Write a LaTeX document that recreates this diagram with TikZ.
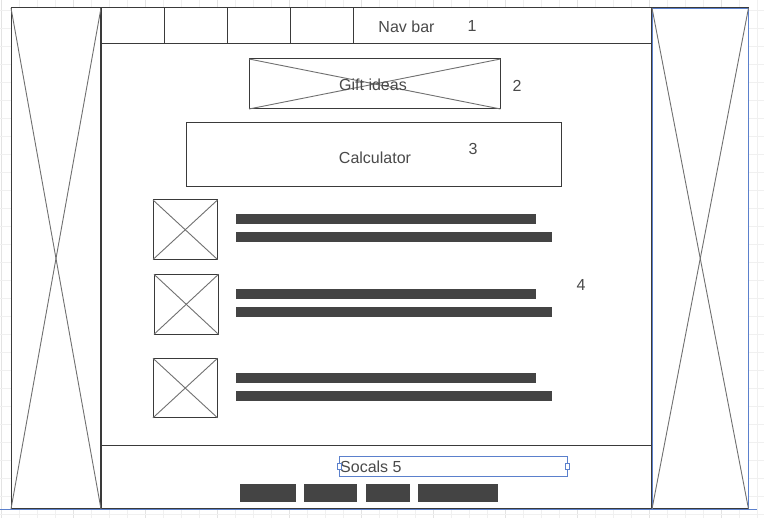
\documentclass[tikz,border=0pt]{standalone}
\usepackage{fontspec}
\setmainfont{Liberation Sans}
\definecolor{linec}{HTML}{3A3A3A}
\definecolor{crossc}{HTML}{707070}
\definecolor{barc}{HTML}{444444}
\definecolor{txtc}{HTML}{4A4A4A}
\definecolor{selc}{HTML}{5B80CC}
\definecolor{gridminor}{HTML}{F0F0F0}
\definecolor{gridmajor}{HTML}{E3E3E3}
\tikzset{
  wbox/.style={draw=linec, line width=1pt, inner sep=0pt, outer sep=0pt, anchor=north west},
  crossln/.style={draw=crossc, line width=0.9pt},
  barbox/.style={fill=barc, draw=none, inner sep=0pt, outer sep=0pt, anchor=north west},
  lbl/.style={text=txtc, inner sep=0pt, font=\fontsize{16}{19}\selectfont},
  handle/.style={draw=selc, fill=white, line width=0.6pt, inner sep=0pt, minimum width=4pt, minimum height=6pt}
}
\begin{document}
\begin{tikzpicture}[x=1pt,y=-1pt]
\useasboundingbox (0,0) rectangle (764,518);
% grid
\foreach \i in {0,...,42} {
  \pgfmathtruncatemacro{\m}{mod(\i,4)}
  \ifnum\m=0 \draw[gridmajor, line width=0.8pt] ({1.3+18*\i},0) -- ({1.3+18*\i},518);
  \else \draw[gridminor, line width=0.8pt] ({1.3+18*\i},0) -- ({1.3+18*\i},518); \fi
}
\foreach \j in {0,...,28} {
  \draw[gridminor, line width=0.8pt] (0,{10+18*\j}) -- (764,{10+18*\j});
}
% white page
\fill[white] (11,8) rectangle (749,509);
% main container
\node[wbox, minimum width=551pt, minimum height=501pt] (main) at (101,8) {};
\draw[linec, line width=2pt] (main.north west) -- (main.south west);
% left panel
\node[wbox, minimum width=90pt, minimum height=501pt] (lp) at (11,8) {};
\draw[crossln] (lp.north west) -- (lp.south east);
\draw[crossln] (lp.north east) -- (lp.south west);
% nav tabs
\node[wbox, minimum width=63pt, minimum height=36pt] (t1) at (101,8) {};
\node[wbox, minimum width=63pt, minimum height=36pt] (t2) at (164,8) {};
\node[wbox, minimum width=63pt, minimum height=36pt] (t3) at (227,8) {};
\node[wbox, minimum width=63pt, minimum height=36pt] (t4) at (290,8) {};
\coordinate (navend) at (652,43.5);
\draw[linec, line width=1pt] (t4.south east |- navend) -- (navend);
\node[lbl] (navtxt) at (406.5,26.5) {Nav bar};
\node[lbl] (n1) at (472,26.5) {1};
% gift ideas
\node[wbox, minimum width=251.5pt, minimum height=50pt] (gift) at (249,59) {};
\draw[crossln] (gift.north west) -- (gift.south east);
\draw[crossln] (gift.north east) -- (gift.south west);
\node[lbl] (gifttxt) at (373,84.5) {Gift ideas};
\node[lbl] (n2) at (517,85.5) {2};
% calculator
\node[wbox, minimum width=375.5pt, minimum height=64pt] (calc) at (186,123) {};
\node[lbl] (calctxt) at (375,157.5) {Calculator};
\node[lbl] (n3) at (473,148.5) {3};
% image boxes
\node[wbox, minimum width=64.5pt, minimum height=59.5pt] (img1) at (153,200) {};
\node[wbox, minimum width=64.5pt, minimum height=60pt] (img2) at (154,274.3) {};
\node[wbox, minimum width=64.5pt, minimum height=59.5pt] (img3) at (153,358.3) {};
\foreach \n in {img1,img2,img3} {
  \draw[crossln] (\n.north west) -- (\n.south east);
  \draw[crossln] (\n.north east) -- (\n.south west);
}
% text bars
\node[barbox, minimum width=300pt, minimum height=10pt] (b1a) at (236,214) {};
\node[barbox, minimum width=316pt, minimum height=10pt] (b1b) at (236,232) {};
\node[barbox, minimum width=300pt, minimum height=10pt] (b2a) at (236,289) {};
\node[barbox, minimum width=316pt, minimum height=10pt] (b2b) at (236,307) {};
\node[barbox, minimum width=300pt, minimum height=10pt] (b3a) at (236,373) {};
\node[barbox, minimum width=316pt, minimum height=10pt] (b3b) at (236,391) {};
\node[lbl] (n4) at (581,284.5) {4};
% footer
\coordinate (footl) at (101,446);
\coordinate (footr) at (652,446);
\draw[linec, line width=1pt] (footl) -- (footr);
\node[draw=selc, line width=0.8pt, inner sep=0pt, outer sep=0pt, anchor=north west, minimum width=228pt, minimum height=20pt] (soc) at (339,456) {};
\node[lbl, anchor=west] (soctxt) at (340,467) {Socals 5};
\node[handle] (h1) at (soc.west) {};
\node[handle] (h2) at (soc.east) {};
% buttons
\node[barbox, minimum width=56pt, minimum height=18pt] (btn1) at (240,484) {};
\node[barbox, minimum width=53pt, minimum height=18pt] (btn2) at (304,484) {};
\node[barbox, minimum width=44pt, minimum height=18pt] (btn3) at (366,484) {};
\node[barbox, minimum width=80pt, minimum height=18pt] (btn4) at (418,484) {};
% right panel (selected)
\node[draw=linec, line width=1.6pt, inner sep=0pt, outer sep=0pt, anchor=north west, minimum width=96.5pt, minimum height=501pt] (rp) at (652,8) {};
\draw[selc, line width=0.9pt] (rp.north west) rectangle (rp.south east);
\draw[crossln] (rp.north west) -- (rp.south east);
\draw[crossln] (rp.north east) -- (rp.south west);
% bottom selection line
\coordinate (sell) at (0,509.5);
\coordinate (selr) at (757,509.5);
\draw[selc, line width=1.5pt] (sell) -- (selr);
\end{tikzpicture}
\end{document}
